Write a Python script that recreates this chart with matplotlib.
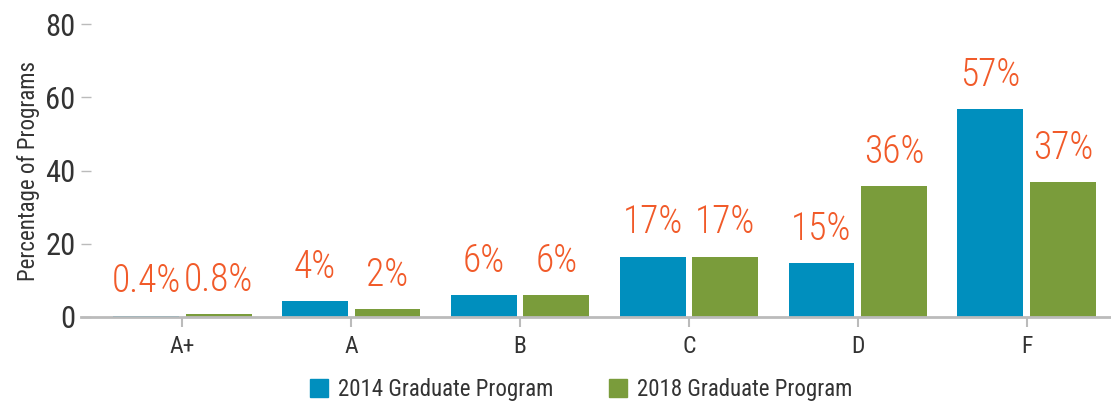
import matplotlib

matplotlib.use("Agg")
import matplotlib.pyplot as plt
from matplotlib import font_manager
from matplotlib.lines import Line2D
import numpy as np

grades = ["A+", "A", "B", "C", "D", "F"]
pct_2014 = [0.4, 4.4, 6.0, 16.5, 14.8, 56.8]
pct_2018 = [0.8, 2.2, 6.0, 16.5, 35.8, 36.9]
labels_2014 = ["0.4%", "4%", "6%", "17%", "15%", "57%"]
labels_2018 = ["0.8%", "2%", "6%", "17%", "36%", "37%"]
yticks = [0, 20, 40, 60, 80]

C_2014 = "#008FBE"
C_2018 = "#7A9C3B"
C_LABEL = "#F15A29"
C_INK = "#333333"
C_AXIS = "#BBBBBB"

# 원본은 condensed 고딕 계열 — 설치된 것 중 첫 번째 사용
available = {f.name for f in font_manager.fontManager.ttflist}
prefs = ["Roboto Condensed", "Archivo Narrow", "PT Sans Narrow", "Sofia Sans Condensed",
         "Fira Sans Condensed", "IBM Plex Sans Condensed", "Open Sans Condensed",
         "Liberation Sans Narrow"]
family = [f for f in prefs if f in available][:1] + ["Liberation Sans", "DejaVu Sans"]
plt.rcParams["font.family"] = family

fig = plt.figure(figsize=(11.11, 4.01), dpi=100)
ax = fig.add_axes([0.073, 0.2095, 0.927, 0.7305])

x = np.arange(len(grades))
w, off = 0.39, 0.215
b1 = ax.bar(x - off, pct_2014, w, color=C_2014)
b2 = ax.bar(x + off, pct_2018, w, color=C_2018)
for bars, labs in ((b1, labels_2014), (b2, labels_2018)):
    for r, t in zip(bars, labs):
        ax.annotate(t, xy=(r.get_x() + r.get_width() / 2, r.get_height()),
                    xytext=(0, 11), textcoords="offset points",
                    ha="center", va="bottom", color=C_LABEL, fontsize=27,
                    fontweight="light")

ax.set_xlim(-0.6, 5.5)
ax.set_ylim(0, 80)
ax.set_xticks(x, grades)
ax.set_yticks(yticks)
ax.set_ylabel("Percentage of Programs", fontsize=16.5, color=C_INK, labelpad=4)

for side in ("top", "right", "left"):
    ax.spines[side].set_visible(False)
ax.spines["bottom"].set_color(C_AXIS)
ax.spines["bottom"].set_linewidth(2)
ax.tick_params(axis="y", direction="in", length=7, width=1, color=C_AXIS,
               pad=4, labelsize=22, labelcolor=C_INK)
ax.tick_params(axis="x", length=7, width=1.5, color=C_AXIS, pad=6,
               labelsize=17, labelcolor=C_INK)

handles = [Line2D([], [], marker="s", ls="", ms=12.5, color=C_2014),
           Line2D([], [], marker="s", ls="", ms=12.5, color=C_2018)]
fig.legend(handles, ["2014 Graduate Program", "2018 Graduate Program"],
           loc="center", bbox_to_anchor=(0.522, 0.028), ncol=2, frameon=False,
           fontsize=16.5, labelcolor=C_INK, handletextpad=0.35, columnspacing=2.3,
           handlelength=1.0)

fig.savefig("out.png", dpi=100)
